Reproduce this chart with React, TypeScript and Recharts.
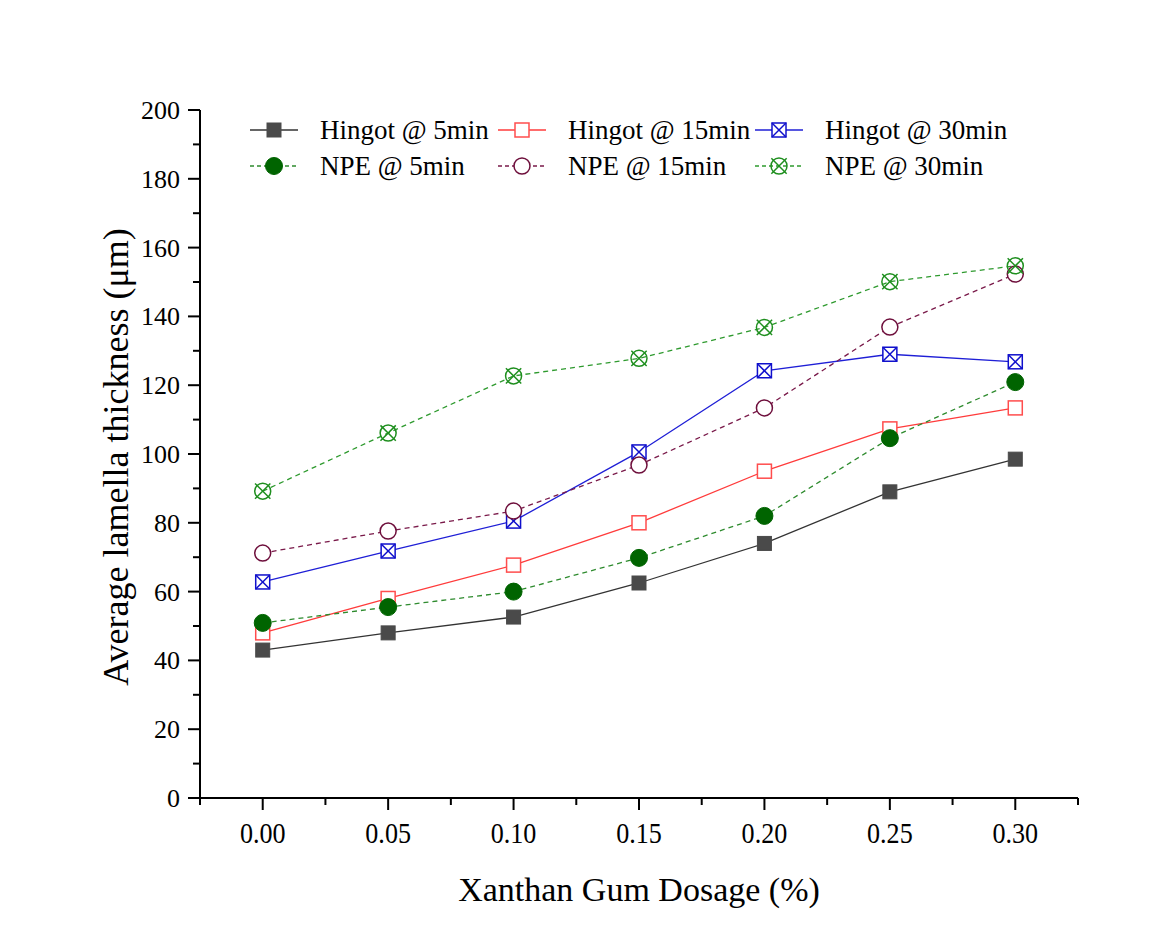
import { LineChart, Line, XAxis, YAxis } from 'recharts';

const dosage = [0, 0.05, 0.1, 0.15, 0.2, 0.25, 0.3];
const hingot5 = [43, 48, 52.6, 62.5, 74, 89, 98.5];
const hingot15 = [48, 58, 67.7, 80, 95, 107.3, 113.4];
const hingot30 = [62.8, 71.8, 80.5, 100.6, 124.2, 129, 126.8];
const npe5 = [50.9, 55.5, 60, 69.8, 82, 104.6, 120.9];
const npe15 = [71.2, 77.6, 83.4, 96.8, 113.4, 136.9, 152.3];
const npe30 = [89.2, 106.1, 122.7, 127.8, 136.8, 150.1, 154.7];

const xTicks = [-0.025, 0, 0.025, 0.05, 0.075, 0.1, 0.125, 0.15, 0.175, 0.2, 0.225, 0.25, 0.275, 0.3, 0.325];
const yTicks = [0, 10, 20, 30, 40, 50, 60, 70, 80, 90, 100, 110, 120, 130, 140, 150, 160, 170, 180, 190, 200];

const data = dosage.map((d, i) => ({
  x: d,
  h5: hingot5[i],
  h15: hingot15[i],
  h30: hingot30[i],
  n5: npe5[i],
  n15: npe15[i],
  n30: npe30[i],
}));

const FONT = '"Liberation Serif", "Times New Roman", serif';

type Shape = 'square' | 'squareOpen' | 'squareX' | 'circle' | 'circleOpen' | 'circleX';

function Marker({ shape, color, cx, cy }: { shape: Shape; color: string; cx: number; cy: number }) {
  const s = 7;
  const r = 8;
  const d = r * 0.707;
  switch (shape) {
    case 'square':
      return <rect x={cx - s} y={cy - s} width={s * 2} height={s * 2} fill={color} stroke={color} />;
    case 'squareOpen':
      return <rect x={cx - s} y={cy - s} width={s * 2} height={s * 2} fill="#fff" stroke={color} strokeWidth={1.5} />;
    case 'squareX':
      return (
        <g stroke={color} strokeWidth={1.5} fill="#fff">
          <rect x={cx - s} y={cy - s} width={s * 2} height={s * 2} />
          <line x1={cx - s} y1={cy - s} x2={cx + s} y2={cy + s} />
          <line x1={cx - s} y1={cy + s} x2={cx + s} y2={cy - s} />
        </g>
      );
    case 'circle':
      return <circle cx={cx} cy={cy} r={r + 0.5} fill={color} stroke={color} />;
    case 'circleOpen':
      return <circle cx={cx} cy={cy} r={r} fill="#fff" stroke={color} strokeWidth={1.5} />;
    case 'circleX':
      return (
        <g stroke={color} strokeWidth={1.5} fill="none">
          <circle cx={cx} cy={cy} r={r} />
          <line x1={cx - d - 2} y1={cy - d - 2} x2={cx + d + 2} y2={cy + d + 2} />
          <line x1={cx - d - 2} y1={cy + d + 2} x2={cx + d + 2} y2={cy - d - 2} />
        </g>
      );
  }
  return null;
}

const makeDot = (shape: Shape, color: string) => (props: any) => (
  <g key={`dot-${shape}-${props.index}`}>
    <Marker shape={shape} color={color} cx={props.cx} cy={props.cy} />
  </g>
);

const series = [
  { key: 'h5', name: 'Hingot @ 5min', line: '#333333', mark: '#4a4a4a', shape: 'square' as Shape, dash: undefined },
  { key: 'h15', name: 'Hingot @ 15min', line: '#ff3b3b', mark: '#ff4d4d', shape: 'squareOpen' as Shape, dash: undefined },
  { key: 'h30', name: 'Hingot @ 30min', line: '#1f1fd6', mark: '#1010cc', shape: 'squareX' as Shape, dash: undefined },
  { key: 'n5', name: 'NPE @ 5min', line: '#2e8b2e', mark: '#006400', shape: 'circle' as Shape, dash: '5 4' },
  { key: 'n15', name: 'NPE @ 15min', line: '#7a1a4a', mark: '#6e0f3c', shape: 'circleOpen' as Shape, dash: '5 4' },
  { key: 'n30', name: 'NPE @ 30min', line: '#2e9a2e', mark: '#1f8f1f', shape: 'circleX' as Shape, dash: '5 4' },
];

const isMajor = (v: number, step: number) => Math.abs(Math.round(v / step) * step - v) < 1e-6;

function XTick(props: any) {
  const { x, y, payload } = props;
  const v = payload.value;
  const major = isMajor(v, 0.05);
  const axisY = y - 12;
  return (
    <g>
      <line x1={x} y1={axisY} x2={x} y2={axisY + (major ? 12 : 7)} stroke="#000" strokeWidth={2} />
      {major && (
        <text
          transform={`translate(${x} ${axisY + 45}) scale(0.9 1)`}
          textAnchor="middle"
          fontFamily={FONT}
          fontSize={29}
          fill="#000"
        >
          {v.toFixed(2)}
        </text>
      )}
    </g>
  );
}

function YTick(props: any) {
  const { x, y, payload } = props;
  const v = payload.value;
  const major = v % 20 === 0;
  const axisX = x + 12;
  return (
    <g>
      <line x1={axisX} y1={y} x2={axisX - (major ? 12 : 7)} y2={y} stroke="#000" strokeWidth={2} />
      {major && (
        <text x={axisX - 20} y={y + 9} textAnchor="end" fontFamily={FONT} fontSize={26} fill="#000">
          {v}
        </text>
      )}
    </g>
  );
}

const legendCols = [242, 490, 747];
const legendRows = [122, 158];

export default function App() {
  return (
    <div style={{ position: 'relative', width: 1160, height: 936, background: '#fff' }}>
      <LineChart width={1160} height={936} data={data} margin={{ top: 102, right: 90, left: 0, bottom: 86 }}>
        <XAxis
          dataKey="x"
          type="number"
          domain={[-0.025, 0.325]}
          ticks={xTicks}
          allowDataOverflow
          interval={0}
          height={60}
          tickSize={12}
          tickMargin={0}
          tickLine={false}
          tick={<XTick />}
          axisLine={{ stroke: '#000', strokeWidth: 2 }}
        />
        <YAxis
          type="number"
          domain={[0, 200]}
          ticks={yTicks}
          interval={0}
          width={192}
          tickSize={12}
          tickMargin={0}
          tickLine={false}
          tick={<YTick />}
          axisLine={{ stroke: '#000', strokeWidth: 2 }}
        />
        {series.map((s) => (
          <Line
            key={s.key}
            dataKey={s.key}
            name={s.name}
            stroke={s.line}
            strokeWidth={1.3}
            strokeDasharray={s.dash}
            dot={makeDot(s.shape, s.mark)}
            activeDot={false}
            isAnimationActive={false}
          />
        ))}
      </LineChart>
      <svg
        width={1160}
        height={936}
        style={{ position: 'absolute', left: 0, top: 0, pointerEvents: 'none' }}
      >
        {series.map((s, i) => {
          const lx = legendCols[i % 3];
          const ly = legendRows[Math.floor(i / 3)];
          return (
            <g key={s.key}>
              <line x1={lx} y1={ly} x2={lx + 48} y2={ly} stroke={s.line} strokeWidth={1.3} strokeDasharray={s.dash ? '4 3' : undefined} />
              <Marker shape={s.shape} color={s.mark} cx={lx + 24} cy={ly} />
              <text x={lx + 70} y={ly + 9} fontFamily={FONT} fontSize={27} fill="#000">
                {s.name}
              </text>
            </g>
          );
        })}
        <text
          x={0}
          y={0}
          transform="translate(120 449) rotate(-90)"
          textAnchor="middle"
          fontFamily={FONT}
          fontSize={36}
          fill="#000"
        >
          Average lamella thickness (μm)
        </text>
        <text x={631} y={893} textAnchor="middle" fontFamily={FONT} fontSize={34} fill="#000">
          Xanthan Gum Dosage (%)
        </text>
      </svg>
    </div>
  );
}
